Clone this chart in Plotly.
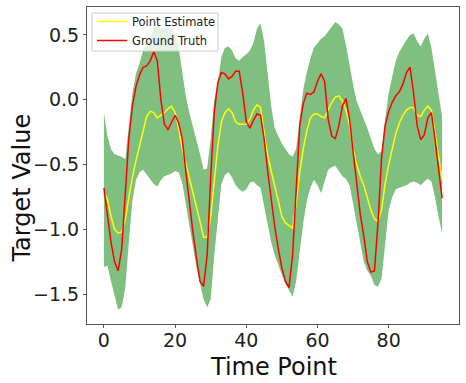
import plotly.graph_objects as go

# time index 0..95
time_points = list(range(96))

ground_truth = [
    -0.68, -0.90, -1.10, -1.25, -1.32, -1.15, -0.75, -0.30, -0.05, 0.10,
    0.19, 0.25, 0.26, 0.30, 0.37, 0.30, 0.00, -0.19, -0.23, -0.17,
    -0.12, -0.18, -0.30, -0.55, -0.80, -1.02, -1.22, -1.40, -1.44, -1.20,
    -0.60, -0.10, 0.13, 0.21, 0.20, 0.16, 0.18, 0.22, 0.22, 0.05,
    -0.17, -0.22, -0.16, -0.11, -0.12, -0.30, -0.55, -0.78, -0.98, -1.15,
    -1.30, -1.40, -1.45, -1.20, -0.70, -0.20, -0.03, 0.05, 0.04, 0.06,
    0.14, 0.20, 0.14, -0.15, -0.28, -0.30, -0.20, -0.05, 0.01, -0.15,
    -0.40, -0.65, -0.88, -1.05, -1.25, -1.33, -1.32, -0.95, -0.45, -0.20,
    -0.09, -0.02, 0.03, 0.06, 0.12, 0.21, 0.25, 0.05, -0.20, -0.31,
    -0.27, -0.14, -0.10, -0.30, -0.55, -0.76,
]

point_estimate = [
    -0.71, -0.77, -0.90, -1.00, -1.03, -1.02, -0.92, -0.75, -0.60, -0.47,
    -0.35, -0.24, -0.13, -0.09, -0.10, -0.14, -0.12, -0.10, -0.07, -0.05,
    -0.10, -0.22, -0.38, -0.49, -0.60, -0.70, -0.82, -0.94, -1.06, -1.06,
    -0.90, -0.62, -0.36, -0.17, -0.10, -0.07, -0.10, -0.17, -0.19, -0.19,
    -0.19, -0.15, -0.08, -0.04, -0.06, -0.25, -0.43, -0.55, -0.67, -0.80,
    -0.90, -0.95, -0.97, -0.99, -0.80, -0.56, -0.38, -0.24, -0.14, -0.11,
    -0.11, -0.13, -0.14, -0.08, -0.02, 0.02, 0.03, -0.01, -0.08, -0.20,
    -0.38, -0.50, -0.59, -0.66, -0.75, -0.85, -0.92, -0.94, -0.85, -0.65,
    -0.50, -0.37, -0.26, -0.18, -0.12, -0.08, -0.06, -0.06, -0.12, -0.13,
    -0.08, -0.05, -0.08, -0.25, -0.45, -0.62,
]

upper_bound = [
    -0.10, -0.28, -0.38, -0.42, -0.43, -0.44, -0.46, -0.20, 0.05, 0.20,
    0.28, 0.38, 0.44, 0.47, 0.55, 0.58, 0.55, 0.55, 0.58, 0.55,
    0.50, 0.40, 0.20, 0.03, -0.10, -0.20, -0.30, -0.42, -0.54, -0.53,
    -0.30, 0.00, 0.13, 0.33, 0.40, 0.41, 0.38, 0.32, 0.30, 0.33,
    0.35, 0.38, 0.44, 0.55, 0.59, 0.45, 0.20, -0.05, -0.22, -0.28,
    -0.34, -0.38, -0.42, -0.44, -0.38, -0.15, 0.08, 0.21, 0.32, 0.40,
    0.44, 0.47, 0.49, 0.53, 0.57, 0.60, 0.58, 0.55, 0.42, 0.26,
    0.12, -0.01, -0.08, -0.14, -0.22, -0.30, -0.38, -0.42, -0.40, -0.15,
    0.05, 0.18, 0.30, 0.37, 0.42, 0.46, 0.50, 0.51, 0.45, 0.41,
    0.47, 0.51, 0.40, 0.22, 0.05, -0.13,
]

lower_bound = [
    -1.29, -1.28, -1.40, -1.52, -1.62, -1.60, -1.45, -1.10, -0.78, -0.62,
    -0.56, -0.54, -0.58, -0.62, -0.65, -0.67, -0.62, -0.59, -0.58, -0.57,
    -0.55, -0.56, -0.64, -0.80, -0.98, -1.15, -1.29, -1.42, -1.54, -1.60,
    -1.54, -1.20, -0.90, -0.65, -0.58, -0.56, -0.60, -0.66, -0.69, -0.71,
    -0.69, -0.64, -0.63, -0.66, -0.68, -0.82, -0.96, -1.10, -1.20, -1.28,
    -1.35, -1.42, -1.47, -1.52, -1.40, -1.18, -0.95, -0.78, -0.68, -0.62,
    -0.66, -0.72, -0.62, -0.54, -0.52, -0.51, -0.55, -0.59, -0.61, -0.66,
    -0.80, -0.96, -1.12, -1.25, -1.32, -1.36, -1.43, -1.44, -1.38, -1.10,
    -0.85, -0.75, -0.69, -0.68, -0.67, -0.66, -0.64, -0.63, -0.64, -0.66,
    -0.63, -0.61, -0.63, -0.75, -0.90, -1.03,
]

x_ticks = [0, 20, 40, 60, 80]
y_ticks = [-1.5, -1.0, -0.5, 0.0, 0.5]

FONT = "DejaVu Sans"

fig = go.Figure()
# uncertainty band
fig.add_trace(go.Scatter(x=time_points, y=lower_bound, mode="lines",
                         line=dict(width=0), showlegend=False, hoverinfo="skip"))
fig.add_trace(go.Scatter(x=time_points, y=upper_bound, mode="lines",
                         line=dict(width=0), fill="tonexty",
                         fillcolor="rgba(0,128,0,0.5)", showlegend=False, hoverinfo="skip"))
fig.add_trace(go.Scatter(x=time_points, y=point_estimate, mode="lines",
                         name="Point Estimate", line=dict(color="#ffff00", width=1.5)))
fig.add_trace(go.Scatter(x=time_points, y=ground_truth, mode="lines",
                         name="Ground Truth", line=dict(color="#ff0000", width=1.5)))

axis_common = dict(showline=True, linecolor="#555555", linewidth=1, mirror=True,
                   showgrid=False, zeroline=False, ticks="outside", ticklen=3,
                   tickcolor="#555555", automargin=False,
                   tickfont=dict(family=FONT, size=19, color="#222222"))

fig.update_xaxes(range=[-4.75, 99.75], tickvals=x_ticks, ticklabelstandoff=-4, **axis_common)
fig.update_yaxes(range=[-1.73, 0.715], tickvals=y_ticks, tickformat=".1f", **axis_common)

# axis titles placed as annotations for exact positioning
title_font = dict(family=FONT, size=24, color="#111111")
fig.add_annotation(text="Time Point", xref="paper", yref="paper", x=0.5, y=-0.135,
                   xanchor="center", yanchor="middle", showarrow=False, font=title_font)
fig.add_annotation(text="Target Value", xref="paper", yref="paper", x=-0.175, y=0.43,
                   xanchor="center", yanchor="middle", textangle=-90, showarrow=False,
                   font=title_font)

# legend frame drawn as a shape so its padding matches the matplotlib box
fig.add_shape(type="rect", xref="paper", yref="paper",
              x0=0.0134, x1=0.352, y0=0.861, y1=0.981, layer="above",
              fillcolor="rgba(255,255,255,0.8)", line=dict(color="#cccccc", width=1))

fig.update_layout(
    width=466, height=383,
    margin=dict(l=87, r=7, t=7, b=59),
    paper_bgcolor="white", plot_bgcolor="white",
    showlegend=True,
    legend=dict(x=0.0134, y=1.0, xanchor="left", yanchor="top", traceorder="normal",
                bgcolor="rgba(0,0,0,0)", borderwidth=0,
                font=dict(family=FONT, size=11.5, color="#222222"),
                itemwidth=30, tracegroupgap=0),
)

fig.write_html("out.html", config={"displayModeBar": False},
               post_script="document.body.style.margin='0';")
